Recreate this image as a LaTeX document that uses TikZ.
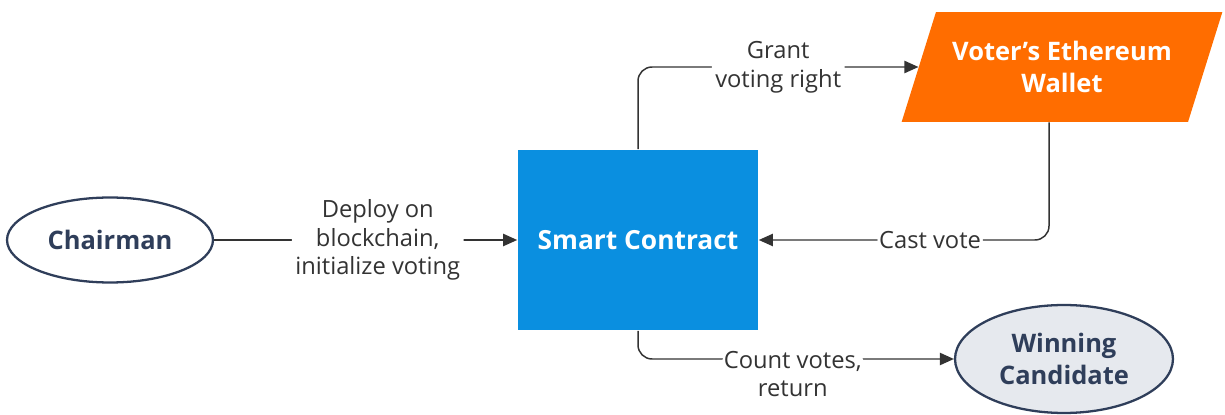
\documentclass[tikz,border=0pt]{standalone}
\usepackage{fontspec}
\setmainfont{Open Sans}
\usetikzlibrary{arrows.meta,shapes.geometric}
\definecolor{navy}{HTML}{2F3E5A}
\definecolor{scblue}{HTML}{0A8FE0}
\definecolor{wallet}{HTML}{FF6D00}
\definecolor{wingray}{HTML}{E6E9EE}
\definecolor{wire}{HTML}{333333}
\tikzset{
  oval/.style={ellipse,draw=navy,line width=1.3pt,text=navy,font=\fontsize{14.5}{18}\selectfont\bfseries,align=center},
  conn/.style={draw=wire,line width=0.85pt,rounded corners=8pt,-{Triangle[length=8pt,width=7pt]}},
  lbl/.style={fill=white,text=wire,font=\fontsize{13.5}{16.3}\selectfont,align=center,inner sep=2pt}
}
\begin{document}
\begin{tikzpicture}[x=0.02cm,y=-0.02cm]
  \useasboundingbox (0,0) rectangle (1225,415);
  \node[oval,minimum width=4.12cm,minimum height=1.7cm] (chair) at (110,240) {Chairman};
  \node[fill=scblue,minimum width=4.82cm,minimum height=3.62cm,text=white,font=\fontsize{15}{18}\selectfont\bfseries] (sc) at (638,240) {Smart Contract};
  \node[trapezium,trapezium left angle=63.4,trapezium right angle=116.6,trapezium stretches=true,
        fill=wallet,minimum width=6.42cm,minimum height=2.2cm,text=white,align=center,
        font=\fontsize{14.5}{18}\selectfont\bfseries] (wal) at (1062,67) {Voter's Ethereum\\Wallet};
  \node[oval,fill=wingray,minimum width=4.36cm,minimum height=2.16cm] (win) at (1064,359) {Winning\\Candidate};
  % arrows
  \draw[conn] (chair.east) -- node[lbl,pos=0.54]{Deploy on\\blockchain,\\initialize voting} (sc.west);
  \draw[conn] (sc.north) |- node[lbl,pos=0.75]{Grant\\voting right} (wal.west);
  \draw[conn] ([xshift=-0.26cm]wal.south) |- node[lbl,pos=0.705,inner sep=1pt]{Cast vote} (sc.east);
  \draw[conn] (sc.south) |- node[lbl,pos=0.745,yshift=-0.3cm,inner sep=1pt]{Count votes,\\return} (win.west);
\end{tikzpicture}
\end{document}
